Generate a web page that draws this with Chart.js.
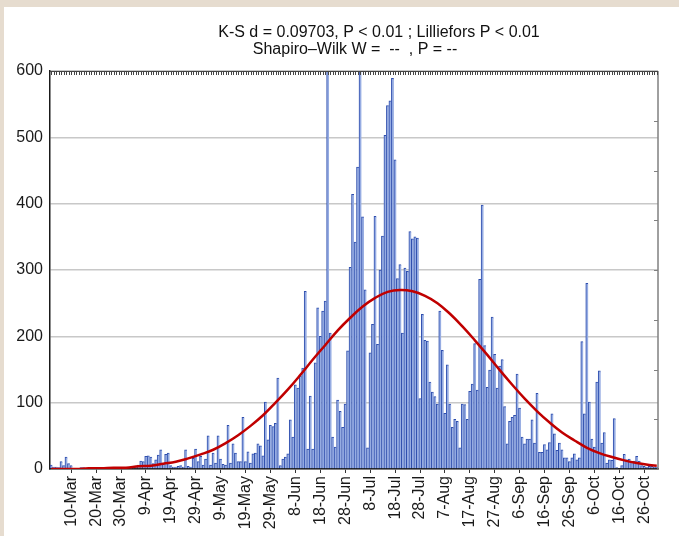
<!DOCTYPE html>
<html>
<head>
<meta charset="utf-8">
<script src="https://cdn.jsdelivr.net/npm/chart.js@4/dist/chart.umd.min.js"></script>
<style>
  html, body { margin: 0; padding: 0; background: #fff; }
  canvas { display: block; }
</style>
</head>
<body>
<canvas id="histChart" width="679" height="536"></canvas>
<script>
// daily counts, 2-Mar .. 31-Oct
const cases = [
  6, 3, 3, 2, 11, 5, 18, 8, 5, 0,
  0, 0, 2, 2, 0, 1, 2, 2, 0, 0,
  0, 0, 0, 1, 0, 0, 0, 0, 0, 2,
  2, 1, 2, 3, 3, 6, 12, 11, 19, 20,
  18, 8, 14, 21, 29, 9, 22, 24, 5, 3,
  3, 4, 5, 3, 29, 4, 3, 16, 30, 11,
  19, 6, 15, 50, 6, 24, 9, 50, 15, 7,
  6, 66, 9, 38, 24, 11, 11, 78, 11, 26,
  9, 23, 24, 38, 35, 20, 101, 44, 66, 64,
  69, 137, 5, 15, 18, 23, 74, 48, 127, 122,
  140, 152, 268, 30, 110, 30, 160, 243, 200, 238,
  253, 640, 205, 48, 33, 104, 87, 63, 98, 178,
  304, 414, 342, 455, 650, 380, 270, 32, 175, 218,
  381, 188, 300, 351, 503, 548, 555, 589, 466, 287,
  308, 205, 303, 298, 358, 347, 350, 348, 106, 233,
  194, 193, 131, 116, 109, 98, 238, 179, 84, 157,
  98, 63, 75, 72, 32, 98, 97, 75, 117, 128,
  189, 119, 286, 398, 186, 123, 149, 229, 173, 122,
  155, 165, 94, 38, 72, 78, 81, 143, 92, 48,
  38, 45, 45, 74, 39, 114, 25, 25, 37, 29,
  40, 83, 53, 28, 39, 29, 17, 17, 11, 17,
  23, 14, 17, 192, 83, 280, 101, 45, 33, 131,
  148, 39, 55, 9, 14, 13, 76, 2, 1, 5,
  22, 14, 15, 11, 12, 19, 12, 5, 4, 3,
  4, 4, 3, 3
];

const tickLabels = [
  '10-Mar', '20-Mar', '30-Mar', '9-Apr', '19-Apr', '29-Apr', '9-May', '19-May',
  '29-May', '8-Jun', '18-Jun', '28-Jun', '8-Jul', '18-Jul', '28-Jul', '7-Aug',
  '17-Aug', '27-Aug', '6-Sep', '16-Sep', '26-Sep', '6-Oct', '16-Oct', '26-Oct'
];

// fitted normal curve
const curveDays = [
  '2-Mar', '7-Mar', '12-Mar', '17-Mar', '22-Mar', '27-Mar', '1-Apr', '6-Apr', '11-Apr', '16-Apr',
  '21-Apr', '26-Apr', '1-May', '6-May', '11-May', '16-May', '21-May', '26-May', '31-May', '5-Jun',
  '10-Jun', '15-Jun', '20-Jun', '25-Jun', '30-Jun', '5-Jul', '10-Jul', '15-Jul', '20-Jul', '25-Jul',
  '30-Jul', '4-Aug', '9-Aug', '14-Aug', '19-Aug', '24-Aug', '29-Aug', '3-Sep', '8-Sep', '13-Sep',
  '18-Sep', '23-Sep', '28-Sep', '3-Oct', '8-Oct', '13-Oct', '18-Oct', '23-Oct', '28-Oct', '31-Oct'
];
const curveValues = [
  0, 0, 0, 1, 1, 2, 2, 4, 5, 8,
  11, 16, 22, 29, 39, 51, 65, 81, 100, 120,
  142, 165, 187, 209, 228, 245, 258, 267, 270, 268,
  261, 250, 234, 215, 194, 172, 149, 127, 106, 87,
  70, 55, 43, 32, 24, 18, 13, 9, 6, 5
];

const rightTicks = [75, 150, 225, 300, 375, 450, 525];

const titleLines = [
  'K-S d = 0.09703, P < 0.01 ; Lilliefors P < 0.01',
  'Shapiro\u2013Wilk W =  --  , P = --'
];

const months = ['Jan', 'Feb', 'Mar', 'Apr', 'May', 'Jun', 'Jul', 'Aug', 'Sep', 'Oct', 'Nov', 'Dec'];
const days = [];
for (let i = 0; i < cases.length; i++) {
  const dt = new Date(2021, 2, 2 + i);
  days.push(dt.getDate() + '-' + months[dt.getMonth()]);
}

const FONT = '"Liberation Sans", Arial, sans-serif';
Chart.defaults.font.family = FONT;

function seg(c, x1, y1, x2, y2) {
  c.beginPath();
  c.moveTo(x1, y1);
  c.lineTo(x2, y2);
  c.stroke();
}

// beige frame, right/top borders with minor ticks, two-line header
const frame = {
  id: 'frame',
  beforeDraw(chart) {
    const c = chart.ctx;
    c.save();
    c.fillStyle = '#e6dccf';
    c.fillRect(0, 0, chart.width, chart.height);
    c.fillStyle = '#ffffff';
    c.fillRect(4, 7, chart.width - 4, chart.height - 7);
    c.restore();
  },
  afterDraw(chart) {
    const c = chart.ctx;
    const a = chart.chartArea;
    const x = chart.scales.x;
    const y = chart.scales.y;
    c.save();
    c.strokeStyle = '#808080';
    c.lineWidth = 1.5;
    seg(c, a.right, a.top, a.right, a.bottom);
    c.lineWidth = 1;
    rightTicks.forEach(v => {
      const py = Math.round(y.getPixelForValue(v)) + 0.5;
      seg(c, a.right - 4, py, a.right, py);
    });
    c.strokeStyle = '#444444';
    seg(c, a.left, a.top + 0.5, a.right, a.top + 0.5);
    days.forEach((d, i) => {
      const px = Math.round(x.getPixelForValue(i)) + 0.5;
      seg(c, px, a.top, px, a.top + 4);
    });
    c.fillStyle = '#111111';
    c.font = '16px ' + FONT;
    c.textAlign = 'center';
    c.textBaseline = 'alphabetic';
    const mid = (a.left + a.right) / 2;
    c.fillText(titleLines[0], mid + 25, 37);
    c.fillText(titleLines[1], mid + 1, 53.5);
    c.restore();
  }
};

new Chart(document.getElementById('histChart'), {
  data: {
    labels: days,
    datasets: [
      {
        type: 'line',
        data: curveDays.map((d, i) => ({ x: d, y: curveValues[i] })),
        borderColor: '#c00000',
        borderWidth: 2.5,
        pointRadius: 0,
        tension: 0.4,
        fill: false,
        order: 0
      },
      {
        type: 'bar',
        data: cases,
        backgroundColor: '#96ace2',
        borderColor: '#2f4fae',
        borderWidth: { top: 1, left: 1, right: 0, bottom: 0 },
        barPercentage: 1,
        categoryPercentage: 1,
        order: 1
      }
    ]
  },
  options: {
    responsive: false,
    animation: false,
    layout: { padding: { top: 71, right: 19, bottom: 0, left: 0 } },
    plugins: {
      legend: { display: false },
      tooltip: { enabled: false }
    },
    scales: {
      x: {
        offset: true,
        grid: {
          offset: false,
          drawOnChartArea: false,
          drawTicks: true,
          tickLength: 4,
          color: ctx => tickLabels.includes(days[ctx.index]) ? '#333333' : 'rgba(0,0,0,0)'
        },
        border: { color: '#1a1a1a', width: 1.5 },
        ticks: {
          autoSkip: false,
          minRotation: 90,
          maxRotation: 90,
          padding: 3,
          color: '#1a1a1a',
          font: { size: 16 },
          callback(value) {
            const lab = this.getLabelForValue(value);
            return tickLabels.includes(lab) ? lab : '';
          }
        },
        afterFit(s) { s.height = 67; }
      },
      y: {
        min: 0,
        max: 600,
        ticks: { stepSize: 100, padding: 7, color: '#1a1a1a', font: { size: 16 } },
        grid: { color: '#c8c8c8', lineWidth: 1.5, drawTicks: false },
        border: { color: '#1a1a1a', width: 1.5 },
        afterFit(s) { s.width = 50; }
      }
    }
  },
  plugins: [frame]
});
</script>
</body>
</html>
